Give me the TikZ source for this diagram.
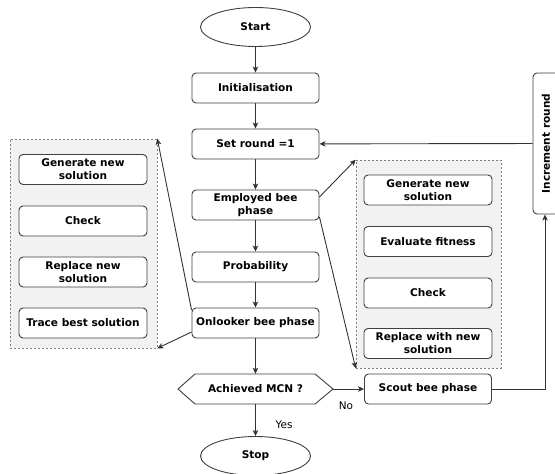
\documentclass[tikz,border=0pt]{standalone}
\usepackage{fontspec}
\setmainfont{DejaVu Sans}
\usetikzlibrary{shapes.geometric,arrows.meta,calc}
\tikzset{
  bfnt/.style={font=\bfseries\fontsize{10.6}{13}\selectfont},
  bx/.style={draw=black!75, line width=0.9bp, rounded corners=4bp, fill=white,
    minimum width=127bp, minimum height=30bp, align=center, inner sep=1bp, bfnt},
  ell/.style={draw=black!75, line width=0.9bp, ellipse, fill=white,
    minimum width=110bp, minimum height=39bp, bfnt},
  grp/.style={draw=black!50, dash pattern=on 2bp off 2bp, line width=0.6bp, fill=black!5},
  arr/.style={draw=black!80, line width=0.9bp, -{Stealth[length=6bp,width=5.5bp,inset=1.5bp]}},
  lbl/.style={font=\fontsize{10.5}{12}\selectfont, inner sep=0bp}
}
\begin{document}
\begin{tikzpicture}[x=1bp,y=-1bp]
\useasboundingbox (0,0) rectangle (555,474);
% groups
\node[grp, minimum width=147bp, minimum height=209bp] (lg) at (83.5,243.5) {};
\node[grp, minimum width=145bp, minimum height=208bp] (rg) at (428.5,264) {};
% main column
\node[ell] (start) at (255.5,27) {Start};
\node[bx] (init) at (255.5,88) {Initialisation};
\node[bx] (setr) at (255.5,144) {Set round =1};
\node[bx] (emp) at (255.5,205) {Employed bee\\phase};
\node[bx] (prob) at (255.5,267) {Probability};
\node[bx] (onl) at (255.5,323) {Onlooker bee phase};
\draw[draw=black!75, line width=0.9bp, fill=white] (178,389) -- (195,374) -- (315,374) -- (333,389) -- (315,404) -- (195,404) -- cycle;
\node[minimum width=155bp, minimum height=30bp, inner sep=0bp, bfnt] (mcn) at (255.5,389) {Achieved MCN ?};
\node[ell] (stop) at (255.5,456) {Stop};
% right side
\node[bx] (scout) at (428,389) {Scout bee phase};
\node[bx, rotate=90, minimum width=141bp, minimum height=26bp] (inc) at (546,143.5) {Increment round};
% right group contents
\node[bx, minimum width=128bp] (rg1) at (428,190) {Generate new\\solution};
\node[bx, minimum width=128bp] (rg2) at (428,241.5) {Evaluate fitness};
\node[bx, minimum width=128bp] (rg3) at (428,293) {Check};
\node[bx, minimum width=128bp] (rg4) at (428,343.5) {Replace with new\\solution};
% left group contents
\node[bx, minimum width=128bp] (lg1) at (83,169.5) {Generate new\\solution};
\node[bx, minimum width=128bp] (lg2) at (83,221) {Check};
\node[bx, minimum width=128bp] (lg3) at (83,272) {Replace new\\solution};
\node[bx, minimum width=128bp] (lg4) at (83,323) {Trace best solution};
% connectors
\draw[arr] (start) -- (init);
\draw[arr] (init) -- (setr);
\draw[arr] (setr) -- (emp);
\draw[arr] (emp) -- (prob);
\draw[arr] (prob) -- (onl);
\draw[arr] (onl) -- (mcn.north);
\draw[arr] (mcn.south) -- (stop);
\draw[arr] (mcn.east) -- (scout.west);
\draw[arr] (scout.east) -| ([xshift=-1bp]inc.west);
\draw[arr] (inc) -- (setr);
\draw[arr] ([yshift=8bp]emp.east) -- (rg.north west);
\draw[arr] ([yshift=-12bp]emp.east) -- (rg.south west);
\draw[arr] ([yshift=13bp]onl.west) -- (lg.north east);
\draw[arr] ([yshift=-9bp]onl.west) -- (lg.south east);
\node[lbl] (yes) at (284,425) {Yes};
\node[lbl] (no) at (346,406) {No};
\end{tikzpicture}
\end{document}
